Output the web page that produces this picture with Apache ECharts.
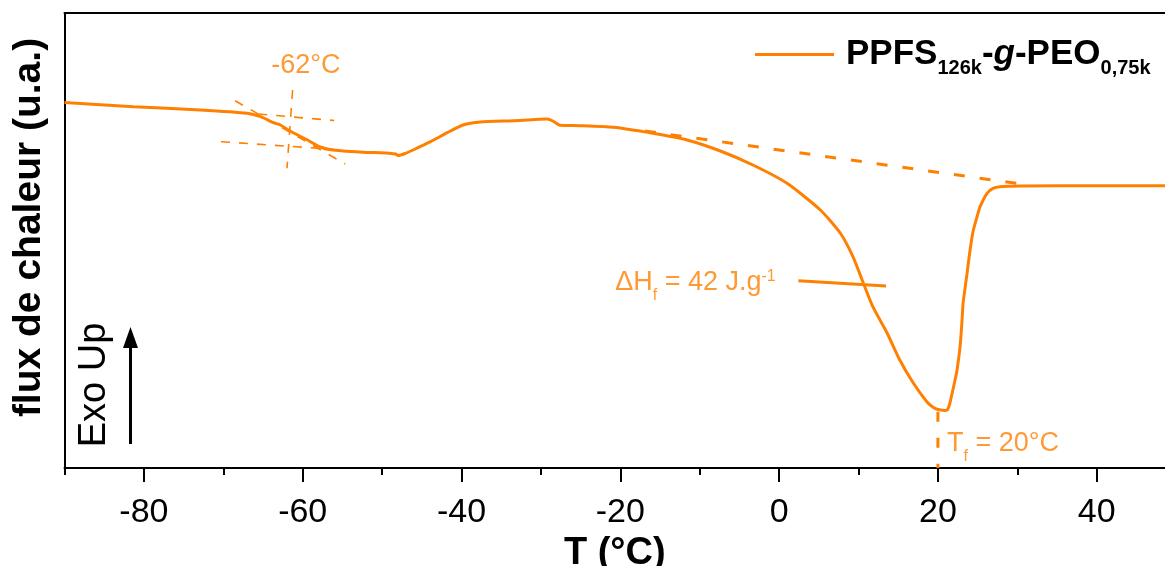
<!DOCTYPE html>
<html>
<head>
<meta charset="utf-8">
<script src="https://cdn.jsdelivr.net/npm/echarts@6/dist/echarts.min.js"></script>
<style>
html,body{margin:0;padding:0;background:#fff;}
#chart{width:1165px;height:566px;}
</style>
</head>
<body>
<div id="chart"></div>
<script>
// ---- data ----
const temperature = [-90, -81.3, -72.9, -67.0, -65.3, -63.7, -62.8, -61.6, -59.4, -57.8, -56.2, -51.9, -50.2, -48.3, -48.0, -47.1, -46.1, -43.9, -41.8, -39.8, -37.6, -33.5, -29.2, -28.5, -27.6, -25.1, -20.9, -15.9, -11.6, -7.4, -3.3, 1.0, 5.2, 7.7, 9.3, 10.6, 11.8, 13.6, 15.2, 16.9, 18.6, 19.3, 19.9, 20.9, 21.2, 21.5, 22.16, 22.41, 22.79, 23.0, 23.17, 23.42, 23.67, 24.05, 24.42, 24.93, 25.31, 26.19, 26.94, 27.82, 30.34, 40.41, 48.6];
const heatFlow    = [365.5, 361.3, 358, 354.7, 351.3, 345.3, 343, 337, 328, 321, 318, 315.5, 315.3, 314, 312.5, 314.5, 318, 326.3, 335.3, 343, 346, 347.3, 349, 347, 342.7, 342.3, 340.7, 334.7, 328, 317, 303, 284.7, 258, 235, 211.3, 185, 161.3, 135, 108, 85, 66.3, 61.3, 58.7, 57.6, 58, 64.7, 88, 98, 121.3, 143, 164.7, 180, 194.7, 218, 236.3, 251.3, 261.3, 274.7, 279.7, 281.3, 282, 282.2, 282.3];

const majorTicks = [-80, -60, -40, -20, 0, 20, 40];
const minorTicks = [-90, -70, -50, -30, -10, 10, 30];

// annotation construction lines
const tgInflexion   = [[-68.52, 367.3], [-54.64, 304]];
const tgUpperBase   = [[-67.86, 355.5], [-56.02, 347.5]];
const tgLowerBase   = [[-70.29, 326.3], [-56.15, 318.7]];
const tgVertical    = [[-61.27, 378], [-61.98, 299.7]];
const meltBaseline  = [[-16.9, 337], [30.0, 284.5]];
const enthalpyLine  = [[2.43, 187.3], [13.47, 182]];
const meltPeakLine  = [[20, 56.3], [20, 0]];

// annotation text anchors
const tgLabelPos = [-59.6, 402.8];
const dhLabelPos = [-20.65, 185.5];
const tfLabelPos = [21.15, 24];

const seriesName = 'PPFS126k-g-PEO0,75k';
const ORANGE = '#ff8000';
const FONT = 'Liberation Sans, Arial, sans-serif';

const chart = echarts.init(document.getElementById('chart'), null, {renderer: 'canvas'});

function dashed(data, width, dash) {
  return {
    type: 'line', data: data, symbol: 'none', silent: true,
    lineStyle: {color: ORANGE, width: width, type: dash}, z: 2
  };
}
function textPoint(pos, formatter, align, rich) {
  return {
    type: 'scatter', data: [pos], symbolSize: 0.01, silent: true,
    itemStyle: {color: 'rgba(0,0,0,0)'},
    label: {show: true, position: 'inside', align: align, verticalAlign: 'middle',
      formatter: formatter, rich: rich}
  };
}
const annRich = {
  m: {fontFamily: FONT, fontSize: 27, color: ORANGE, lineHeight: 30, verticalAlign: 'middle'},
  s: {fontFamily: FONT, fontSize: 16, color: ORANGE, lineHeight: 30, verticalAlign: 'middle', padding: [26, 0, 0, 0]},
  p: {fontFamily: FONT, fontSize: 16, color: ORANGE, lineHeight: 30, verticalAlign: 'middle', padding: [0, 0, 12, 0]}
};

const option = {
  animation: false,
  backgroundColor: '#fff',
  grid: {left: 64.5, right: 0, top: 13, bottom: 98, containLabel: false, outerBoundsMode: 'none'},
  legend: {
    data: [seriesName],
    left: 755, top: 31, padding: 0,
    icon: 'rect', itemWidth: 79, itemHeight: 3,
    selectedMode: false,
    formatter: function () { return '{b|PPFS}{s|126k}{b|-}{i|g}{b|-PEO}{s|0,75k}'; },
    textStyle: {
      padding: [0, 0, 0, 7],
      rich: {
        b: {fontFamily: FONT, fontSize: 35, fontWeight: 'bold', color: '#000', lineHeight: 38, verticalAlign: 'middle'},
        i: {fontFamily: FONT, fontSize: 35, fontWeight: 'bold', fontStyle: 'italic', color: '#000', lineHeight: 38, verticalAlign: 'middle'},
        s: {fontFamily: FONT, fontSize: 20, fontWeight: 'bold', color: '#000', lineHeight: 38, verticalAlign: 'middle', padding: [27, 0, 0, 0]}
      }
    }
  },
  xAxis: [
    {
      type: 'value', min: -90, max: 48.6, position: 'bottom',
      axisLine: {show: true, onZero: false, lineStyle: {color: '#000', width: 2}},
      axisTick: {show: true, customValues: majorTicks, length: 14, lineStyle: {color: '#000', width: 2}},
      axisLabel: {show: true, customValues: majorTicks, fontFamily: FONT, fontSize: 34, color: '#000', margin: 28},
      splitLine: {show: false},
      name: 'T (°C)', nameLocation: 'middle', nameGap: 64,
      nameTextStyle: {fontFamily: FONT, fontSize: 38, fontWeight: 'bold', color: '#000'}
    },
    {
      type: 'value', min: -90, max: 48.6, position: 'bottom',
      axisLine: {show: false, onZero: false},
      axisTick: {show: true, customValues: minorTicks, length: 7, lineStyle: {color: '#000', width: 2}},
      axisLabel: {show: false}, splitLine: {show: false}
    },
    {
      type: 'value', min: -90, max: 48.6, position: 'top',
      axisLine: {show: true, onZero: false, lineStyle: {color: '#000', width: 2}},
      axisTick: {show: false}, axisLabel: {show: false}, splitLine: {show: false}
    }
  ],
  yAxis: {
    type: 'value', min: 0, max: 455, position: 'left',
    axisLine: {show: true, onZero: false, lineStyle: {color: '#000', width: 2}},
    axisTick: {show: false}, axisLabel: {show: false}, splitLine: {show: false},
    name: 'flux de chaleur (u.a.)', nameLocation: 'middle', nameGap: 16,
    nameTextStyle: {fontFamily: FONT, fontSize: 39, fontWeight: 'bold', color: '#000', padding: [0, 0, 0, 26]}
  },
  series: [
    {
      name: seriesName, type: 'line', symbol: 'none', silent: true,
      smooth: 0.2,
      data: temperature.map((t, i) => [t, heatFlow[i]]),
      lineStyle: {color: ORANGE, width: 3}, itemStyle: {color: ORANGE}, z: 3
    },
    dashed(tgInflexion, 1.6, [9, 9]),
    dashed(tgUpperBase, 1.6, [9, 9]),
    dashed(tgLowerBase, 1.6, [9, 9]),
    dashed(tgVertical, 1.6, [9, 9]),
    dashed(meltBaseline, 3, [11, 15]),
    {type: 'line', data: enthalpyLine, symbol: 'none', silent: true, lineStyle: {color: ORANGE, width: 3}},
    dashed(meltPeakLine, 3, [10, 16]),
    textPoint(tgLabelPos, '{m|-62°C}', 'center', annRich),
    textPoint(dhLabelPos, '{m|ΔH}{s|f}{m| = 42 J.g}{p|-1}', 'left', annRich),
    textPoint(tfLabelPos, '{m|T}{s|f}{m| = 20°C}', 'left', annRich)
  ],
  graphic: [
    {type: 'text', x: 95, y: 385, rotation: Math.PI / 2,
      style: {text: 'Exo Up', fontFamily: FONT, fontSize: 38, fill: '#000', align: 'center', verticalAlign: 'middle'}},
    {type: 'line', shape: {x1: 130.5, y1: 444, x2: 130.5, y2: 342}, style: {stroke: '#000', lineWidth: 3}},
    {type: 'polygon', shape: {points: [[130.5, 327], [123, 348], [138, 348]]}, style: {fill: '#000'}}
  ]
};
chart.setOption(option);
</script>
</body>
</html>
